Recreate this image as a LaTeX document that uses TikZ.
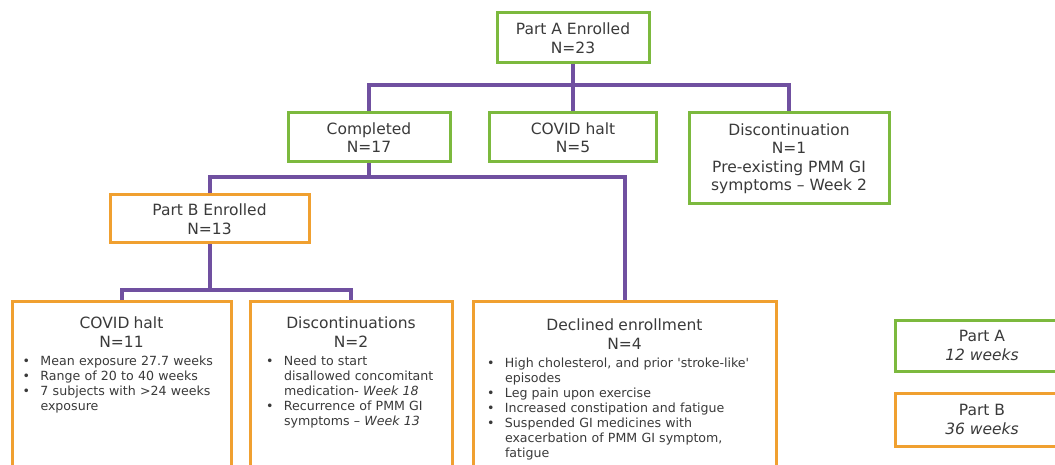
\documentclass[tikz,border=0pt]{standalone}
\usepackage{fontspec}
\setmainfont{DejaVu Sans}
\usetikzlibrary{positioning}

\definecolor{partagreen}{RGB}{124,185,62}
\definecolor{partborange}{RGB}{240,160,48}
\definecolor{linkpurple}{RGB}{112,80,160}
\definecolor{txtgray}{RGB}{58,58,58}

\newcommand{\ttlfont}{\fontsize{15.5}{18.5}\selectfont}
\newcommand{\bulfont}{\fontsize{12.6}{15}\selectfont}
\newcommand{\boxhead}[2]{{\centering\ttlfont #1\\#2\par}\vspace{3pt}}
\newcommand{\bitem}[1]{\par\noindent\hangindent=19pt\hangafter=1\hbox to 19pt{\hspace{1pt}\textbullet\hfil}#1\par}

\begin{document}
\begin{tikzpicture}[x=1pt,y=-1pt,
  boxA/.style={draw=partagreen,line width=3pt,fill=white,align=center,
    font=\ttlfont,text=txtgray,inner sep=2pt},
  boxB/.style={draw=partborange,line width=3pt,fill=white,align=center,
    font=\ttlfont,text=txtgray,inner sep=2pt},
  listtxt/.style={align=left,font=\bulfont,text=txtgray,inner sep=0pt,anchor=north},
  link/.style={draw=linkpurple,line width=4pt}]
  \useasboundingbox (0,0) rectangle (1055,465);
  \clip (0,0) rectangle (1055,465);

  \node[boxA,minimum width=152,minimum height=50] (enrA) at (573,38) {Part A Enrolled\\N=23};
  \node[boxA,minimum width=162,minimum height=49] (complA) at (369,137.5) {Completed\\N=17};
  \node[boxA,minimum width=167,minimum height=49] (covidA) at (573,137.5) {COVID halt\\N=5};
  \node[boxA,minimum width=200,minimum height=91] (discA) at (789,158.5)
    {Discontinuation\\N=1\\Pre-existing PMM GI\\symptoms -- Week 2};

  \node[boxB,minimum width=199,minimum height=48] (enrB) at (209.5,219) {Part B Enrolled\\N=13};

  \node[boxB,anchor=north,minimum width=219,minimum height=190] (covidB) at (121.5,300) {};
  \node[boxB,anchor=north,minimum width=202,minimum height=190] (discB) at (351,300) {};
  \node[boxB,anchor=north,minimum width=303,minimum height=190] (declB) at (624.5,300) {};

  \node[listtxt,text width=200] (covidBtxt) at ([yshift=-17pt]covidB.north) {%
    \boxhead{COVID halt}{N=11}%
    \bitem{Mean exposure 27.7 weeks}%
    \bitem{Range of 20 to 40 weeks}%
    \bitem{7 subjects with >24 weeks\newline exposure}};
  \node[listtxt,text width=172] (discBtxt) at ([yshift=-17pt]discB.north) {%
    \boxhead{Discontinuations}{N=2}%
    \bitem{Need to start\newline disallowed concomitant\newline medication- \textit{Week 18}}%
    \bitem{Recurrence of PMM GI\newline symptoms -- \textit{Week 13}}};
  \node[listtxt,text width=277] (declBtxt) at ([yshift=-19pt]declB.north) {%
    \boxhead{Declined enrollment}{N=4}%
    \bitem{High cholesterol, and prior \textquotesingle stroke-like\textquotesingle\newline episodes}%
    \bitem{Leg pain upon exercise}%
    \bitem{Increased constipation and fatigue}%
    \bitem{Suspended GI medicines with\newline exacerbation of PMM GI symptom,\newline fatigue}};

  \node[boxA,minimum width=174,minimum height=51] (legA) at (982,345.5) {Part A\\\textit{12 weeks}};
  \node[boxB,minimum width=174,minimum height=53] (legB) at (982,419.5) {Part B\\\textit{36 weeks}};

  \coordinate (busA) at (573,85);
  \coordinate (busC) at (369,177);
  \coordinate (busB) at (209.5,290);
  \draw[link] (enrA.south) -- (covidA.north);
  \draw[link] (complA.north) |- (busA) -| (discA.north);
  \draw[link] (complA.south) -- (busC);
  \draw[link] (enrB.north) |- (busC) -| (declB.north);
  \draw[link] (enrB.south) -- (busB);
  \draw[link] (covidB.north) |- (busB) -| (discB.north);
\end{tikzpicture}
\end{document}
